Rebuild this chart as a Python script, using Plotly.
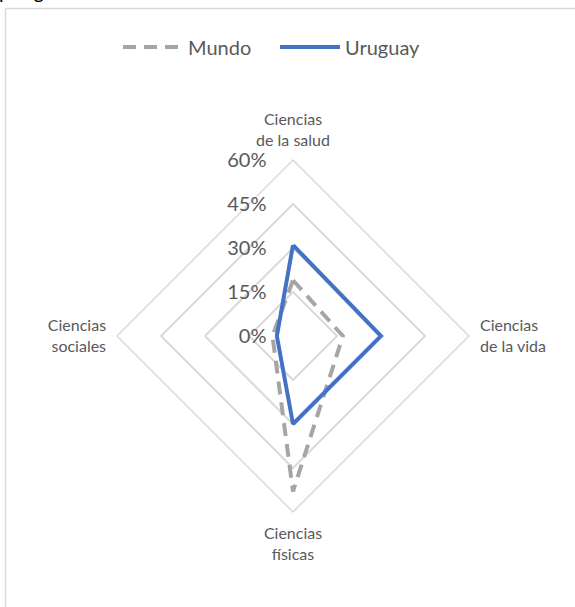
import plotly.graph_objects as go

categories = ["Ciencias<br>de la salud", "Ciencias<br>de la vida", "Ciencias<br>físicas", "Ciencias<br>sociales"]
mundo = [19, 17, 53, 7]
uruguay = [31, 30, 30, 5.5]
radial_ticks = [0, 15, 30, 45, 60]
radial_ticktext = ["0%", "15%", "30%", "45%", "60%"]

FONT = "Lato, Liberation Sans, sans-serif"
TXT = "#595959"

fig = go.Figure()
fig.add_trace(go.Scatterpolar(
    r=mundo + [mundo[0]], theta=categories + [categories[0]],
    mode="lines", name="Mundo",
    line=dict(color="#A5A5A5", width=4, dash="13px,8px"),
))
fig.add_trace(go.Scatterpolar(
    r=uruguay + [uruguay[0]], theta=categories + [categories[0]],
    mode="lines", name="Uruguay",
    line=dict(color="#4472C4", width=4),
))

fig.update_layout(
    width=575, height=607,
    margin=dict(l=0, r=0, t=0, b=0),
    paper_bgcolor="white",
    font=dict(family=FONT, color=TXT),
    showlegend=True,
    legend=dict(orientation="h", x=118 / 575, xanchor="left", y=1 - 47 / 607, yanchor="middle",
                font=dict(size=20, color=TXT), itemwidth=60, entrywidth=82, bgcolor="rgba(0,0,0,0)"),
    polar=dict(
        domain=dict(x=[117 / 575, 469 / 575], y=[1 - 512 / 607, 1 - 160 / 607]),
        bgcolor="white",
        gridshape="linear",
        radialaxis=dict(range=[0, 60], tickvals=radial_ticks, ticktext=radial_ticktext,
                        angle=90, tickangle=90, side="counterclockwise",
                        showline=False, ticks="outside", ticklen=19, tickcolor="rgba(0,0,0,0)",
                        gridcolor="#D9D9D9", gridwidth=1.5,
                        tickfont=dict(size=20, color=TXT)),
        angularaxis=dict(direction="clockwise", rotation=90, showgrid=False,
                         showline=True, linecolor="#D9D9D9", linewidth=1.5,
                         ticks="outside", ticklen=7, tickcolor="rgba(0,0,0,0)",
                         tickfont=dict(size=16, color=TXT)),
    ),
    annotations=[dict(text="por gran área en 2020", xref="paper", yref="paper", x=-0.005, y=1.0,
                      xanchor="left", yanchor="bottom", yshift=-5, showarrow=False,
                      font=dict(size=20, color="#000000", family=FONT))],
    shapes=[
        dict(type="line", xref="paper", yref="paper", x0=5.5 / 575, x1=5.5 / 575, y0=0, y1=1 - 8.5 / 607,
             line=dict(color="#D9D9D9", width=1.5)),
        dict(type="line", xref="paper", yref="paper", x0=5.5 / 575, x1=1, y0=1 - 8.5 / 607, y1=1 - 8.5 / 607,
             line=dict(color="#D9D9D9", width=1.5)),
    ],
)

fig.write_html("out.html", config={"displayModeBar": False},
               post_script="document.body.style.margin='0';")
